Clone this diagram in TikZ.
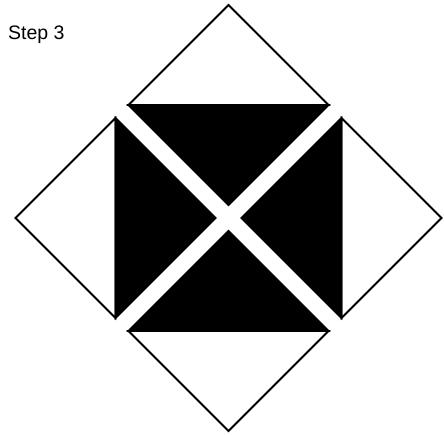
\documentclass[tikz,border=0pt]{standalone}
\usepackage{fontspec}
\setmainfont{Liberation Sans}
\begin{document}
\begin{tikzpicture}[x=1pt,y=-1pt,
  halfwhite/.style={fill=white,draw=black,line width=1.8pt,line join=miter},
  halfblack/.style={fill=black,draw=black,line width=1.8pt,line join=miter}]
\useasboundingbox (0,0) rectangle (444,435);
\def\R{100}
% top piece
\coordinate (tc) at (228.5,105);
\filldraw[halfwhite] ([yshift=\R]tc) -- ([xshift=-\R]tc) -- ([xshift=\R]tc) -- cycle;
\filldraw[halfblack] ([xshift=-\R]tc) -- ([xshift=\R]tc) -- ([yshift=-\R]tc) -- cycle;
% bottom piece
\coordinate (bc) at (228.5,331);
\filldraw[halfwhite] ([yshift=-\R]bc) -- ([xshift=-\R]bc) -- ([xshift=\R]bc) -- cycle;
\filldraw[halfblack] ([xshift=-\R]bc) -- ([xshift=\R]bc) -- ([yshift=\R]bc) -- cycle;
% left piece
\coordinate (lc) at (115.5,218);
\filldraw[halfwhite] ([xshift=-\R]lc) -- ([yshift=-\R]lc) -- ([yshift=\R]lc) -- cycle;
\filldraw[halfblack] ([yshift=-\R]lc) -- ([yshift=\R]lc) -- ([xshift=\R]lc) -- cycle;
% right piece
\coordinate (rc) at (341.5,218);
\filldraw[halfwhite] ([xshift=\R]rc) -- ([yshift=-\R]rc) -- ([yshift=\R]rc) -- cycle;
\filldraw[halfblack] ([yshift=-\R]rc) -- ([yshift=\R]rc) -- ([xshift=-\R]rc) -- cycle;
\node[anchor=base west,inner sep=0pt,font=\fontsize{19.5}{22}\selectfont] (title) at (8,40) {Step 3};
\end{tikzpicture}
\end{document}
